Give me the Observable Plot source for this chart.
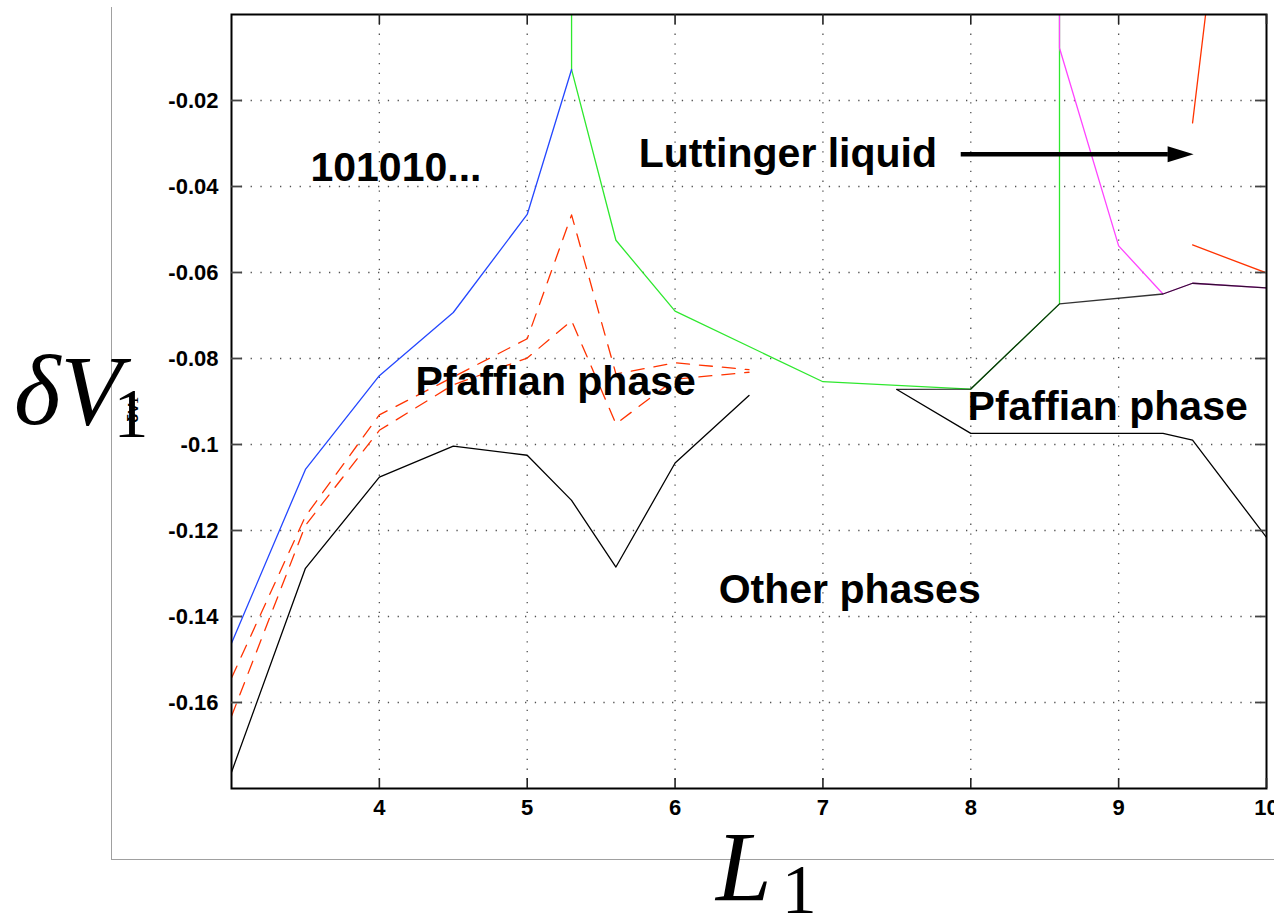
<!DOCTYPE html>
<html><head><meta charset="utf-8">
<script src="https://cdn.jsdelivr.net/npm/d3@7"></script>
<script src="https://cdn.jsdelivr.net/npm/@observablehq/plot@0.6"></script>
<style>
html,body{margin:0;padding:0;background:#fff;width:1274px;height:915px;overflow:hidden;}
#wrap{position:relative;width:1274px;height:915px;}
#box{position:absolute;left:111px;top:7px;width:1170px;height:852px;border-left:1.5px solid #a0a0a0;border-bottom:1.5px solid #a0a0a0;}
#chart{position:absolute;left:0;top:0;}
</style></head><body><div id="wrap"><div id="box"></div><div id="chart"></div></div>
<script>
// ticks
const xTicks = [4,5,6,7,8,9,10];
const yTicks = [-0.16,-0.14,-0.12,-0.1,-0.08,-0.06,-0.04,-0.02];

// series
const blueX = [3,3.5,4,4.5,5,5.3];
const blueY = [-0.1462,-0.1058,-0.0840,-0.0693,-0.0465,-0.0128];
const greenX = [5.3,5.3,5.6,6,7,8,8.6,8.6];
const greenY = [0,-0.0128,-0.0525,-0.0690,-0.0854,-0.0871,-0.0673,0];
const magentaX = [8.6,8.6,9,9.3,9.5,10];
const magentaY = [0,-0.0078,-0.0538,-0.0650,-0.0625,-0.0636];
const blackAX = [3,3.5,4,4.5,5,5.3,5.6,6,6.5];
const blackAY = [-0.1762,-0.1288,-0.1076,-0.1004,-0.1025,-0.1130,-0.1285,-0.1043,-0.0886];
const blackBX = [7.5,8,8.6,9.3,9.5,10];
const blackBY = [-0.0872,-0.0871,-0.0673,-0.0650,-0.0625,-0.0636];
const blackCX = [7.5,8,9.3,9.5,10];
const blackCY = [-0.0872,-0.0974,-0.0974,-0.0990,-0.1216];
const dash1X = [3,3.5,4,4.5,5,5.3,5.6,6,6.5];
const dash1Y = [-0.1543,-0.1167,-0.0931,-0.0843,-0.0754,-0.0466,-0.0836,-0.0810,-0.0826];
const dash2X = [3,3.5,4,4.5,5,5.3,5.6,6,6.5];
const dash2Y = [-0.1632,-0.1188,-0.0967,-0.0861,-0.0799,-0.0712,-0.0952,-0.0848,-0.0832];
const redAX = [9.5,9.6];
const redAY = [-0.0252,0.0034];
const redBX = [9.5,10];
const redBY = [-0.0536,-0.0601];

// annotations
const labelText = ["101010...","Luttinger liquid","Pfaffian phase","Pfaffian phase","Other phases"];
const labelX = [3.534,5.754,4.245,7.978,6.295];
const labelY = [-0.0356,-0.0323,-0.0854,-0.0912,-0.1339];
const arrowX = [7.932,9.333,9.507]; // start, head base, tip
const arrowY = -0.0325;

const pts = (X,Y) => X.map((x,i)=>({x, y:Y[i]}));
const W=1274, H=915, mL=231, mR=8, mT=14, mB=127;
const pw = W-mL-mR, ph = H-mT-mB;
const fmt = d => String(+(+d).toFixed(2));
const ln = (X,Y,stroke,extra={}) => Plot.line(pts(X,Y), {x:"x", y:"y", stroke, strokeWidth:1.3, clip:true, ...extra});
const headSymbol = {draw(ctx){ ctx.moveTo(0,0); ctx.lineTo(-26,-8); ctx.lineTo(-26,8); ctx.closePath(); }};
const labels = labelText.map((t,i)=>({t, x:labelX[i], y:labelY[i]}));

const plot = Plot.plot({
  width: W, height: H,
  marginLeft: mL, marginRight: mR, marginTop: mT, marginBottom: mB,
  x: {domain:[3,10]},
  y: {domain:[-0.18,0]},
  style: {fontFamily: "'Liberation Sans', Arial, sans-serif", fontSize: "22px", fontWeight: "bold", background: "transparent", color: "black"},
  marks: [
    Plot.gridX({ticks: xTicks.filter(d=>d<10), stroke:"#333", strokeOpacity:0.85, strokeDasharray:"1.3,8.5", strokeWidth:1.3}),
    Plot.gridY({ticks: yTicks, stroke:"#333", strokeOpacity:0.85, strokeDasharray:"1.3,8.5", strokeWidth:1.3}),
    ln(greenX, greenY, "#2ee82e"),
    ln(magentaX, magentaY, "#ff44ff"),
    ln(blueX, blueY, "#2447ff"),
    ln(dash1X, dash1Y, "#ff3300", {strokeDasharray:"13,10"}),
    ln(dash2X, dash2Y, "#ff3300", {strokeDasharray:"13,10"}),
    ln(redAX, redAY, "#ff3300"),
    ln(redBX, redBY, "#ff3300"),
    ln(blackAX, blackAY, "black"),
    ln(blackBX, blackBY, "black", {strokeOpacity:0.8}),
    ln(blackCX, blackCY, "black"),
    Plot.frame({stroke:"black", strokeWidth:2}),
    Plot.tickX(xTicks, {x: d=>d, insetTop: ph-10, stroke:"#222", strokeWidth:1.6}),
    Plot.tickX(xTicks, {x: d=>d, insetBottom: ph-10, stroke:"#222", strokeWidth:1.6}),
    Plot.tickY(yTicks, {y: d=>d, insetRight: pw-11, stroke:"#444", strokeWidth:1.8}),
    Plot.tickY(yTicks, {y: d=>d, insetLeft: pw-11, stroke:"#444", strokeWidth:1.8}),
    Plot.axisX({ticks: xTicks, tickSize:0, tickPadding:11, fontSize:22, fontWeight:"bold", tickFormat: fmt, label:null}),
    Plot.axisY({ticks: yTicks, tickSize:0, tickPadding:13, fontSize:22, fontWeight:"bold", tickFormat: fmt, label:null}),
    Plot.text(labels, {x:"x", y:"y", text:"t", textAnchor:"start", fontSize:41, fontWeight:"bold", fill:"black"}),
    Plot.link([0], {x1: ()=>arrowX[0], x2: ()=>arrowX[1], y1: ()=>arrowY, y2: ()=>arrowY, stroke:"black", strokeWidth:4.6}),
    Plot.dot([0], {x: ()=>arrowX[2], y: ()=>arrowY, symbol: headSymbol, fill:"black", stroke:"none", r:5})
  ]
});
document.getElementById("chart").appendChild(plot);

const svg = d3.select(plot);
svg.selectAll("g[aria-label='x-axis tick label'], g[aria-label='y-axis tick label']")
  .attr("font-size", 22).attr("font-weight", "bold")
  .selectAll("text").attr("font-size", 22).attr("font-weight", "bold");

// axis titles
const serif = "'Liberation Serif', 'DejaVu Serif', serif";
const yl = svg.append("text").attr("x", 14).attr("y", 424).attr("text-anchor","start")
  .style("font-family", serif).style("font-style","italic").style("font-weight","normal").style("font-size","100px").attr("fill","black");
yl.append("tspan").text("δV");
yl.append("tspan").attr("dx", -8).attr("dy", 13).style("font-style","normal").style("font-size","70px").text("1");
svg.append("text").attr("transform","translate(138,410) rotate(-90)").attr("text-anchor","middle")
  .style("font-family","'Liberation Sans', Arial, sans-serif").style("font-weight","bold").style("font-size","15px").attr("fill","black").text("δV₁");
const xl = svg.append("text").attr("x", 716).attr("y", 900).attr("text-anchor","start")
  .style("font-family", serif).style("font-style","italic").style("font-weight","normal").style("font-size","100px").attr("fill","black");
xl.append("tspan").text("L");
xl.append("tspan").attr("dx", 10).attr("dy", 13).style("font-style","normal").style("font-size","70px").text("1");
</script>
</body></html>
